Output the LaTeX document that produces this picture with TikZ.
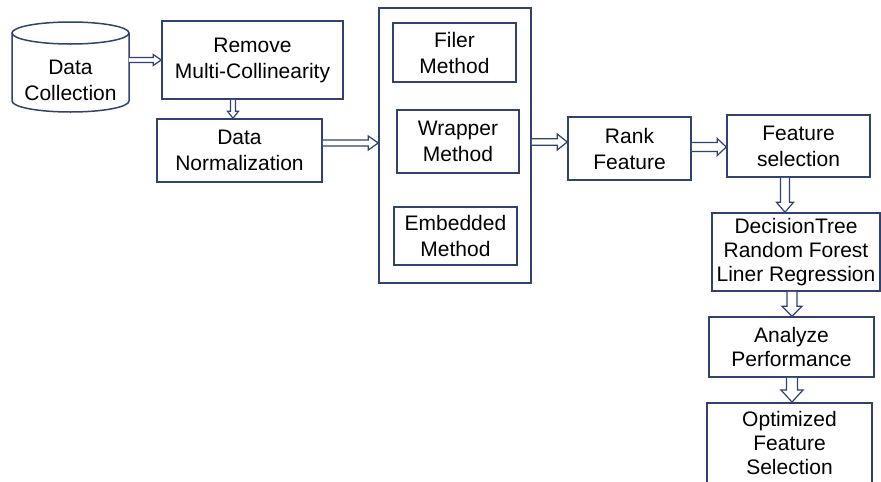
\documentclass[tikz,border=0pt]{standalone}
\usepackage{fontspec}
\setmainfont{Liberation Sans}
\usetikzlibrary{calc}
\definecolor{navy}{HTML}{2F4270}
\tikzset{
  bx/.style={draw=navy, line width=1.5pt, align=center, inner sep=0pt, font=\fontsize{21}{26}\selectfont},
  txt/.style={align=center, inner sep=0pt, font=\fontsize{21}{26}\selectfont},
  tight/.style={font=\fontsize{21}{24}\selectfont},
  arr/.style={draw=navy, line width=1.2pt, fill=white, line join=miter},
}
\newcommand\harr[5]{%
  \draw[arr] let \p1=(#1), \p2=(#2) in
    (\x1,\y1+#3pt) -- (\x2-#5pt,\y1+#3pt) -- (\x2-#5pt,\y1+#4pt) -- (\x2,\y1)
    -- (\x2-#5pt,\y1-#4pt) -- (\x2-#5pt,\y1-#3pt) -- (\x1,\y1-#3pt);}
\newcommand\varr[5]{%
  \draw[arr] let \p1=(#1), \p2=(#2) in
    (\x1-#3pt,\y1) -- (\x1-#3pt,\y2+#5pt) -- (\x1-#4pt,\y2+#5pt) -- (\x1,\y2)
    -- (\x1+#4pt,\y2+#5pt) -- (\x1+#3pt,\y2+#5pt) -- (\x1+#3pt,\y1);}
\begin{document}
\begin{tikzpicture}[x=1pt,y=-1pt]
\useasboundingbox (0,0) rectangle (881,482);
\clip (0,0) rectangle (881,482);
% cylinder
\node[minimum width=117pt, minimum height=90pt, inner sep=0pt] (dc) at (70.5,67) {};
\draw[navy, line width=1.5pt] (12,33) -- (12,101)
  arc[start angle=180, end angle=360, x radius=58.5pt, y radius=11pt] -- (129,33);
\draw[navy, line width=1.5pt] (70.5,33) ellipse [x radius=58.5pt, y radius=11pt];
\node[txt] (dct) at (70.5,80.5) {Data\\Collection};
% boxes
\node[bx, minimum width=181pt, minimum height=78pt] (rm) at (252.5,60) {Remove\\Multi-Collinearity};
\node[bx, minimum width=165pt, minimum height=63pt] (nm) at (239.5,150.5) {Data\\Normalization};
\node[bx, minimum width=152pt, minimum height=275pt] (big) at (455,145.5) {};
\node[bx, minimum width=123pt, minimum height=59pt] (fm) at (454.5,52.5) {Filer\\Method};
\node[bx, minimum width=122pt, minimum height=63pt] (wm) at (458,141.5) {Wrapper\\Method};
\node[bx, minimum width=123pt, minimum height=58pt] (em) at (455.5,236) {Embedded\\Method};
\node[bx, minimum width=123pt, minimum height=63pt] (rk) at (629.5,148.5) {Rank\\Feature};
\node[bx, minimum width=143pt, minimum height=62pt] (fs) at (798.5,146) {Feature\\selection};
\node[bx, tight, minimum width=168pt, minimum height=78pt] (dt) at (796,252) {DecisionTree\\Random Forest\\Liner Regression};
\node[bx, tight, minimum width=165pt, minimum height=60pt] (an) at (791.5,347) {Analyze\\Performance};
\node[bx, minimum width=165pt, minimum height=110pt, anchor=north] (op) at (789.5,402) {};
\node[txt, tight] (opt) at (789.5,443) {Optimized\\Feature\\Selection};
% arrows
\harr{dc.east |- rm.west}{rm.west}{2.5}{5.5}{8}
\varr{$(rm.south)+(-19.5,0)$}{nm.north}{2.5}{5.5}{7}
\harr{$(nm.east)+(0,-7.5)$}{big.west}{3}{7}{10}
\harr{$(big.east)+(0,-3.5)$}{rk.west}{3.3}{8}{10}
\harr{$(rk.east)+(0,-1.5)$}{fs.west}{4.5}{8.5}{9}
\varr{$(fs.south)+(-13.5,0)$}{dt.north}{4.5}{8.5}{10}
\varr{$(dt.south)+(-4,0)$}{an.north}{5}{10}{10}
\varr{$(an.south)+(0.5,0)$}{op.north}{5.5}{11}{12}
\end{tikzpicture}
\end{document}
